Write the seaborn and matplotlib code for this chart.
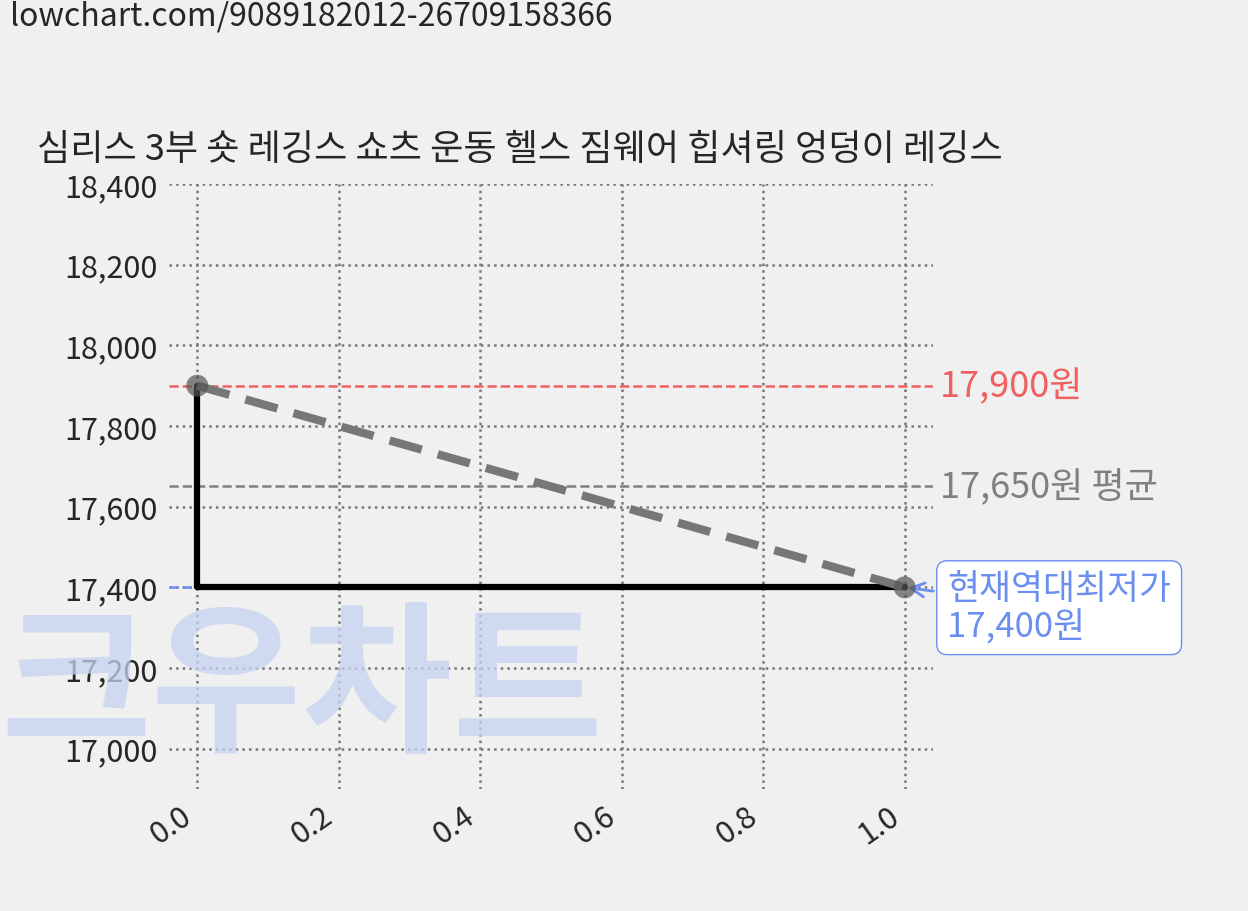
import matplotlib
matplotlib.use("Agg")
import matplotlib.pyplot as plt
import seaborn as sns
import pandas as pd

sns.set_theme(style="white")
plt.rcParams['font.family'] = ['Noto Sans CJK KR', 'DejaVu Sans']

title = "심리스 3부 숏 레깅스 쇼츠 운동 헬스 짐웨어 힙셔링 엉덩이 레깅스"
xs = [0.0, 1.0]
prices = [17900, 17400]
max_price = 17900
avg_price = 17650
min_price = 17400
yticks = [17000, 17200, 17400, 17600, 17800, 18000, 18200, 18400]
xticks = [0.0, 0.2, 0.4, 0.6, 0.8, 1.0]

df = pd.DataFrame({"x": xs, "price": prices})

fig = plt.figure(figsize=(12.48, 9.12), dpi=100, facecolor="#f0f0f0")
fig.text(0.0, 1-690/912, "크우차트", fontsize=118, fontweight="heavy", color="#c5d3f0",
         alpha=0.75, ha="left", va="center", zorder=0)

ax = fig.add_axes([169/1248, 1-790/912, (933-169)/1248, (790-185)/912])
ax.set_facecolor("none")

ax.axhline(max_price, color="#f06060", ls="--", lw=1.8, zorder=2)
ax.axhline(avg_price, color="#808080", ls="--", lw=1.8, zorder=2)
ax.plot([-0.04, 1.0], [min_price, min_price], color="#6a8ff0", ls="--", lw=1.8, zorder=2)

ax.plot(df["x"], df["price"], drawstyle="steps-pre", color="black", lw=4.5, zorder=3)
sns.lineplot(data=df, x="x", y="price", ax=ax, color="#777777", lw=6,
             linestyle=(0, (4, 2)), zorder=4)
sns.scatterplot(data=df, x="x", y="price", ax=ax, color="#555555", s=250,
                alpha=0.7, zorder=5, edgecolor="none")

ax.set_xlim(-0.04, 1.04)
ax.set_ylim(16900, 18400)
ax.set_yticks(yticks)
ax.set_yticklabels([f"{v:,}" for v in yticks], fontsize=22, fontweight="light")
ax.set_xticks(xticks)
ax.set_xticklabels([f"{v:.1f}" for v in xticks], fontsize=22, fontweight="light",
                   rotation=35, ha="right")
ax.grid(True, color="#777777", ls=":", lw=1.8)
for s in ax.spines.values():
    s.set_visible(False)
ax.tick_params(length=0, pad=8)
ax.set_xlabel("")
ax.set_ylabel("")

ax.text(1.05, max_price, f"{max_price:,}원", color="#f06060", fontsize=26,
        va="center", ha="left")
ax.text(1.05, avg_price, f"{avg_price:,}원 평균", color="#808080", fontsize=26,
        va="center", ha="left")
ax.annotate(f"현재역대최저가\n{min_price:,}원", xy=(1.0, min_price), xytext=(1.06, min_price + 40),
            color="#6a8ff0", fontsize=25, va="top", ha="left", linespacing=1.1,
            bbox=dict(boxstyle="round,pad=0.3", fc="white", ec="#6a8ff0"),
            arrowprops=dict(arrowstyle="->", color="#6a8ff0", lw=2),
            annotation_clip=False)

fig.text(0.03, 1-150/912, title, fontsize=26, ha="left", va="center")
fig.text(0.008, 1-16/912, "lowchart.com/9089182012-26709158366", fontsize=23,
         ha="left", va="center")

fig.savefig("out.png", dpi=100, facecolor="#f0f0f0")
